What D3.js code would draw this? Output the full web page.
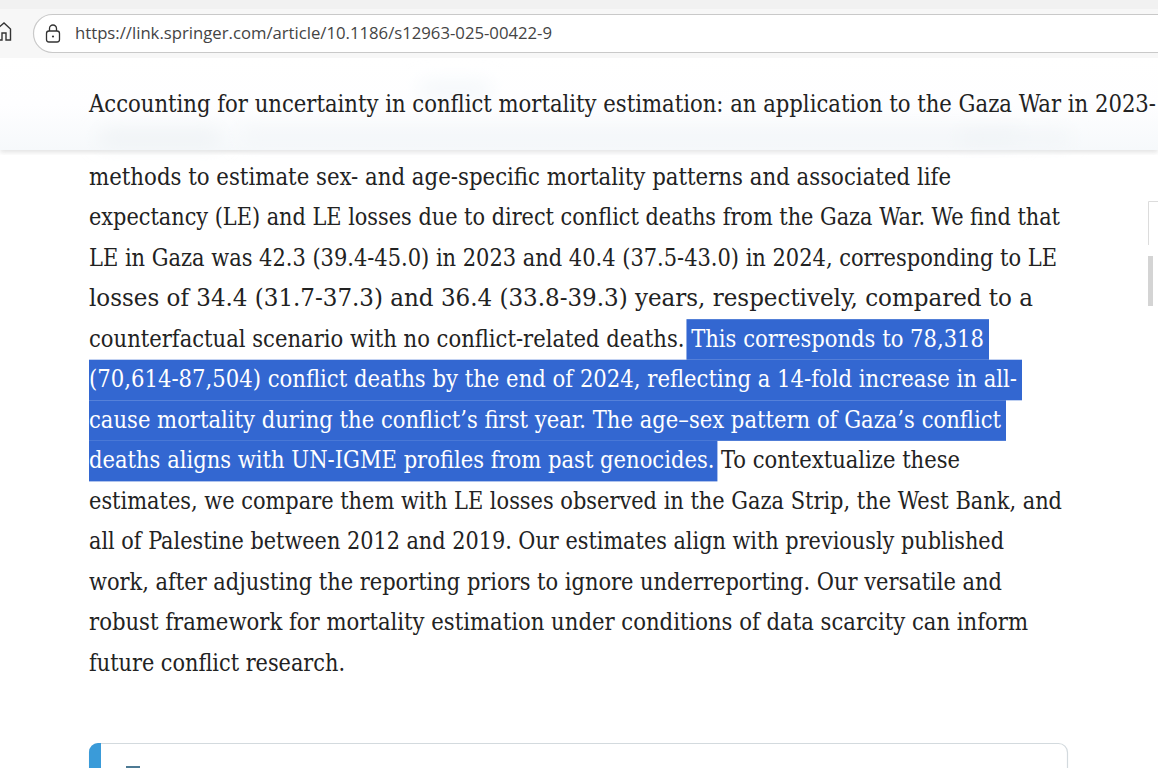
<!DOCTYPE html>
<html><head><meta charset="utf-8">
<script src="https://cdn.jsdelivr.net/npm/d3@7/dist/d3.min.js"></script>
<style>html,body{margin:0;padding:0;background:#fff;overflow:hidden}svg{display:block}</style>
</head><body><svg id="c" width="1158" height="768"></svg>
<script>
const urlText = "https://link.springer.com/article/10.1186/s12963-025-00422-9";
const titleText = "Accounting for uncertainty in conflict mortality estimation: an application to the Gaza War in 2023-";
// each line: [before selection, selected, after selection]
const bodyLines = [
 ["methods to estimate sex- and age-specific mortality patterns and associated life","",""],
 ["expectancy (LE) and LE losses due to direct conflict deaths from the Gaza War. We find that","",""],
 ["LE in Gaza was 42.3 (39.4-45.0) in 2023 and 40.4 (37.5-43.0) in 2024, corresponding to LE","",""],
 ["losses of 34.4 (31.7-37.3) and 36.4 (33.8-39.3) years, respectively, compared to a","",""],
 ["counterfactual scenario with no conflict-related deaths."," This corresponds to 78,318",""],
 ["","(70,614-87,504) conflict deaths by the end of 2024, reflecting a 14-fold increase in all-",""],
 ["","cause mortality during the conflict\u2019s first year. The age\u2013sex pattern of Gaza\u2019s conflict",""],
 ["","deaths aligns with UN-IGME profiles from past genocides."," To contextualize these"],
 ["estimates, we compare them with LE losses observed in the Gaza Strip, the West Bank, and","",""],
 ["all of Palestine between 2012 and 2019. Our estimates align with previously published","",""],
 ["work, after adjusting the reporting priors to ignore underreporting. Our versatile and","",""],
 ["robust framework for mortality estimation under conditions of data scarcity can inform","",""],
 ["future conflict research.","",""]
];
const lineWidths = [862,971,968,944,895,928,912,871,973,915,913,939,256];
const serif = "'DejaVu Serif Condensed','DejaVu Serif',serif";
const svg = d3.select("#c");
const defs = svg.append("defs");
defs.append("filter").attr("id","b").attr("x","-20%").attr("y","-200%").attr("width","140%").attr("height","500%")
  .append("feGaussianBlur").attr("stdDeviation",10);
defs.append("filter").attr("id","s").attr("x","-5%").attr("y","-50%").attr("width","110%").attr("height","200%")
  .append("feGaussianBlur").attr("stdDeviation",2.5);
const grad = defs.append("linearGradient").attr("id","hg").attr("x1",0).attr("y1",0).attr("x2",0).attr("y2",1);
grad.append("stop").attr("offset",0).attr("stop-color","#ffffff");
grad.append("stop").attr("offset",0.5).attr("stop-color","#fefeff");
grad.append("stop").attr("offset",1).attr("stop-color","#f6f9fb");

const y = d3.scaleLinear().domain([0,12]).range([184.5,671]);

// browser chrome
svg.append("rect").attr("width",1158).attr("height",58).attr("fill","#f7f7f7");
svg.append("rect").attr("width",1158).attr("height",9).attr("fill","#f1f1f1");
svg.append("rect").attr("x",33.5).attr("y",14.5).attr("width",1200).attr("height",38).attr("rx",19)
  .attr("fill","#fff").attr("stroke","#c9c9c9").attr("stroke-width",1.2);
svg.append("path").attr("d","M-3 29 L4 23 L10.5 29 V40 H6 V33 H2 V40 H-3").attr("fill","none").attr("stroke","#333").attr("stroke-width",1.4);
svg.append("rect").attr("x",46.5).attr("y",31).attr("width",13).attr("height",11).attr("rx",2.5).attr("fill","none").attr("stroke","#333").attr("stroke-width",1.3);
svg.append("path").attr("d","M49.5 31 V28.5 a3.5 3.5 0 0 1 7 0 V31").attr("fill","none").attr("stroke","#333").attr("stroke-width",1.3);
svg.append("circle").attr("cx",53).attr("cy",36.5).attr("r",1.1).attr("fill","#333");
svg.append("text").attr("x",75).attr("y",39).attr("font-family","'Open Sans','Noto Sans',sans-serif").attr("font-size",16)
  .attr("fill","#444").attr("textLength",477).attr("lengthAdjust","spacingAndGlyphs").text(urlText);

// sticky header
svg.append("rect").attr("y",146).attr("width",1158).attr("height",6).attr("fill","#b0b0b0").attr("opacity",.4).attr("filter","url(#s)");
svg.append("rect").attr("y",58).attr("width",1158).attr("height",92).attr("fill","url(#hg)");
const blots = [[100,133,120,10,"#e8edf0"],[240,131,780,10,"#f0f3f6"],[420,84,70,12,"#eef4f8"],[960,134,110,8,"#ebf0f3"]];
svg.append("g").selectAll("rect").data(blots).join("rect")
  .attr("x",d=>d[0]).attr("y",d=>d[1]).attr("width",d=>d[2]).attr("height",d=>d[3]).attr("fill",d=>d[4]).attr("filter","url(#b)");
svg.append("text").attr("transform","translate(89,112) scale(1,1.067)").attr("font-family",serif).attr("font-size",22.5).attr("fill","#222")
  .attr("textLength",1067).attr("lengthAdjust","spacingAndGlyphs").text(titleText);

// body
const sel = svg.append("g"), txt = svg.append("g");
const texts = txt.selectAll("text").data(bodyLines).join("text")
  .attr("x",89).attr("y",(d,i)=>y(i)).attr("font-family",serif).attr("font-size",24).attr("fill","#222")
  .attr("xml:space","preserve").style("white-space","pre")
  .attr("textLength",(d,i)=>lineWidths[i]).attr("lengthAdjust","spacingAndGlyphs");
texts.each(function(d){
  const t = d3.select(this);
  t.append("tspan").text(d[0]);
  t.append("tspan").attr("fill","#fff").text(d[1]);
  t.append("tspan").text(d[2]);
});
texts.each(function(d,i){
  if(!d[1]) return;
  const a = this.getExtentOfChar(d[0].length), b = this.getExtentOfChar(d[0].length+d[1].length-1);
  const left = d[0] ? a.x+2 : 89;
  const right = b.x+b.width + (d[2] ? 3 : 5);
  sel.append("rect").attr("x",left).attr("y",y(i)-27.5).attr("width",right-left).attr("height",40.6).attr("fill","#3367d1");
});

// callout box
svg.append("rect").attr("x",89.5).attr("y",743.5).attr("width",978).attr("height",60).attr("rx",9).attr("fill","#fff").attr("stroke","#d3dade").attr("stroke-width",1.2);
svg.append("path").attr("d","M101 743 H98 a9 9 0 0 0 -9 9 V768 H101 Z").attr("fill","#3a9bd9");
svg.append("rect").attr("x",126).attr("y",766).attr("width",14).attr("height",2).attr("fill","#4d7a94");

// scrollbar remnants
svg.append("path").attr("d","M1158 201.5 H1148.5 V245").attr("fill","none").attr("stroke","#dcdcdc");
svg.append("rect").attr("x",1148).attr("y",256).attr("width",5).attr("height",50).attr("fill","#d4d4d4");
</script></body></html>
